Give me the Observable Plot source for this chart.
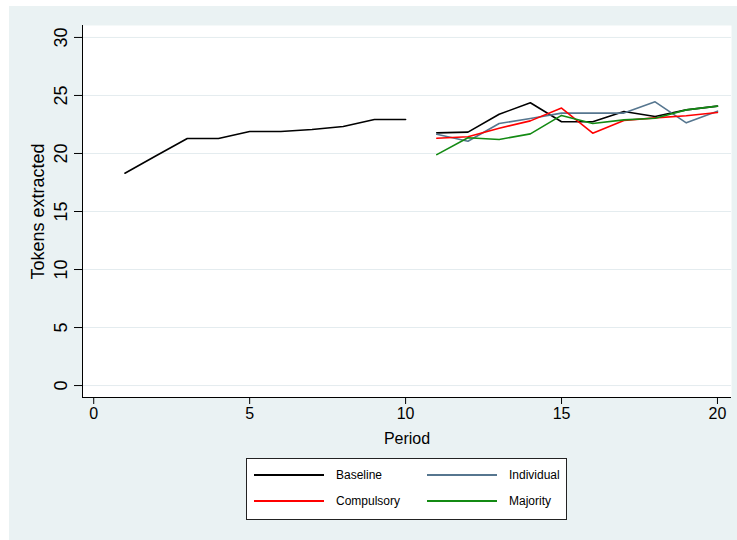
<!DOCTYPE html>
<html><head><meta charset="utf-8">
<script src="https://cdn.jsdelivr.net/npm/d3@7"></script>
<script src="https://cdn.jsdelivr.net/npm/@observablehq/plot@0.6"></script>
<style>
html,body{margin:0;padding:0;background:#fff;}
#bg{position:absolute;left:9px;top:6px;width:728px;height:534px;background:#eaf2f3;}
#chart{position:absolute;left:0;top:0;}
#legend{position:absolute;left:246px;top:458px;width:319px;height:60px;background:#fff;border:1px solid #222;font-family:"Liberation Sans",Arial,sans-serif;font-size:12px;color:#000;}
.item{position:absolute;height:16px;display:flex;align-items:center;white-space:nowrap;}
.swatch{width:70px;height:0;border-top:2px solid;margin-right:12px;}
</style></head>
<body>
<div id="bg"></div><div id="chart"></div><div id="legend"></div>
<script>
const basePeriods = [1,2,3,4,5,6,7,8,9,10,11,12,13,14,15,16,17,18,19,20];
const treatPeriods = [11,12,13,14,15,16,17,18,19,20];
const seriesNames = ["Baseline","Individual","Compulsory","Majority"];
const seriesColors = ["#000000","#56768f","#ff0000","#138a13"];
const baseline   = [18.30,19.80,21.29,21.29,21.90,21.90,22.07,22.33,22.93,22.93,
                    21.78,21.84,23.38,24.37,22.73,22.73,23.62,23.19,23.76,24.08];
const individual = [21.65,21.05,22.58,23.01,23.48,23.48,23.48,24.45,22.64,23.65];
const compulsory = [21.31,21.44,22.18,22.81,23.91,21.75,22.84,23.07,23.25,23.53];
const majority   = [19.90,21.35,21.21,21.69,23.28,22.59,22.90,23.04,23.76,24.08];
const xTicks = [0,5,10,15,20];
const yTicks = [0,5,10,15,20,25,30];
const xDomain = [-0.36, 20.45];
const yDomain = [-1.03, 31.03];

const rows = [];
basePeriods.forEach((p,i)=>rows.push({series:"Baseline",period:p,value:baseline[i],seg:"Baseline"+(p<=10?"a":"b")}));
const treat = {Individual:individual, Compulsory:compulsory, Majority:majority};
for (const [name, vals] of Object.entries(treat))
  treatPeriods.forEach((p,i)=>rows.push({series:name,period:p,value:vals[i],seg:name}));

const plot = Plot.plot({
  width:737, height:450,
  marginLeft:82, marginRight:6, marginTop:25, marginBottom:53,
  style:{background:"transparent", fontFamily:"Liberation Sans, Arial, sans-serif", color:"#000", overflow:"visible"},
  x:{domain:xDomain, label:null},
  y:{domain:yDomain, label:null},
  color:{domain:seriesNames, range:seriesColors},
  marks:[
    Plot.frame({fill:"white", stroke:null}),
    Plot.gridY(yTicks, {stroke:"#e4ecef", strokeOpacity:1, strokeWidth:1}),
    Plot.line(rows, {x:"period", y:"value", z:"seg", stroke:"series", strokeWidth:1.6}),
    Plot.ruleX([xDomain[0]], {stroke:"#000", strokeWidth:1}),
    Plot.ruleY([yDomain[0]], {stroke:"#000", strokeWidth:1}),
    Plot.axisX(xTicks, {tickSize:7, tickPadding:3, fontSize:16, label:null, stroke:"#000"}),
    Plot.axisY(yTicks, {tickSize:8, tickRotate:-90, tickPadding:8, fontSize:18, label:null, stroke:"#000"}),
    Plot.text(["Period"], {frameAnchor:"bottom", lineAnchor:"middle", textAnchor:"middle", dy:41, fontSize:16}),
    Plot.text(["Tokens extracted"], {frameAnchor:"left", textAnchor:"middle", lineAnchor:"middle", dx:-44, rotate:-90, fontSize:18})
  ]
});
document.getElementById("chart").appendChild(plot);

const legend = document.getElementById("legend");
const legendOrder = ["Baseline","Individual","Compulsory","Majority"];
const colLeft = [7, 180], rowTop = [8, 34];
legendOrder.forEach((name,i)=>{
  const d = document.createElement("div");
  d.className = "item";
  d.style.left = colLeft[i%2] + "px";
  d.style.top = rowTop[Math.floor(i/2)] + "px";
  const s = document.createElement("div");
  s.className = "swatch";
  s.style.borderTopColor = seriesColors[seriesNames.indexOf(name)];
  d.appendChild(s);
  const t = document.createElement("span");
  t.textContent = name;
  d.appendChild(t);
  legend.appendChild(d);
});
</script>
</body></html>
